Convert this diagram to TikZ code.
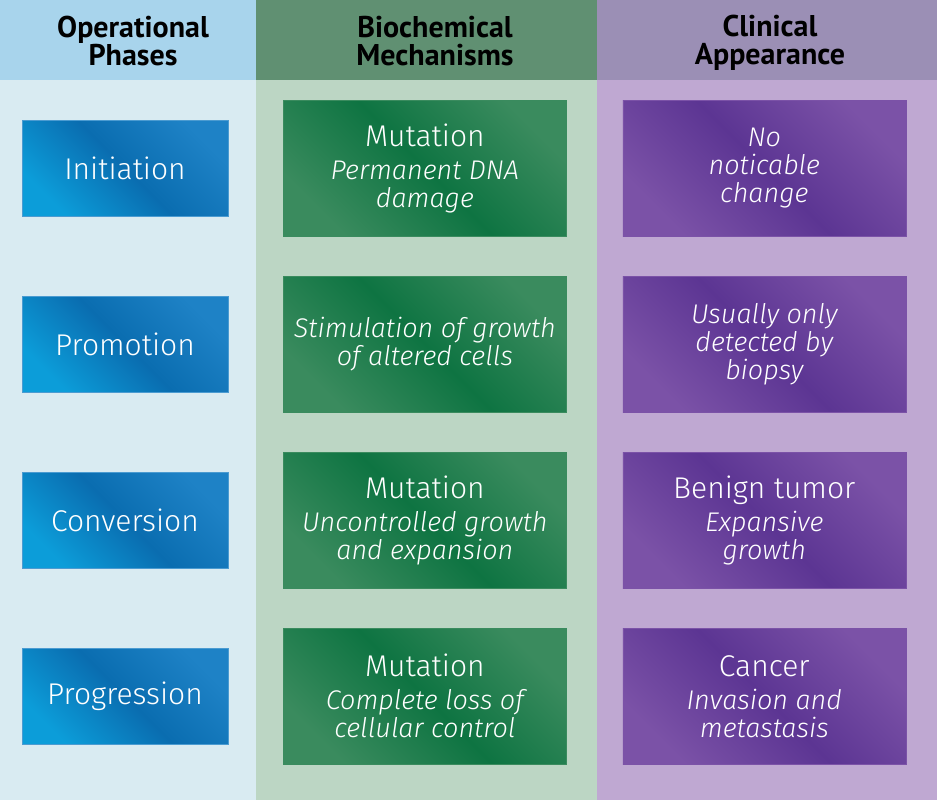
\documentclass[tikz,border=0pt]{standalone}
\usepackage{fontspec}
\usepackage{tikz}
\usetikzlibrary{positioning}
\setmainfont{Fira Sans Light}
\newfontfamily\headfont{PT Sans}
\definecolor{phasehead}{RGB}{168,212,236}
\definecolor{phasebg}{RGB}{217,235,242}
\definecolor{mechhead}{RGB}{96,144,114}
\definecolor{mechbg}{RGB}{188,214,196}
\definecolor{clinhead}{RGB}{155,143,181}
\definecolor{clinbg}{RGB}{191,168,210}
\definecolor{bluelight}{RGB}{12,157,217}
\definecolor{bluedark}{RGB}{10,109,176}
\definecolor{bluetop}{RGB}{30,130,198}
\definecolor{greenlight}{RGB}{58,139,94}
\definecolor{greendark}{RGB}{14,116,66}
\definecolor{purplelight}{RGB}{123,82,167}
\definecolor{purpledark}{RGB}{92,53,147}
\newcommand{\boxtitle}[1]{{\fontsize{30}{34}\selectfont #1}\\[5pt]}

\begin{document}
\begin{tikzpicture}[
			x=1pt, y=-1pt,
			node distance=55pt,
			head/.style={font=\headfont\bfseries\fontsize{30}{28}\selectfont, align=center, text=black},
			phase/.style={minimum width=206pt, minimum height=96pt, draw=bluetop!80, left color=bluetop, right color=bluelight, middle color=bluedark, shading angle=-45, text=white, font=\fontsize{30}{32}\selectfont},
			mech/.style={minimum width=283pt, minimum height=136pt, draw=greenlight, left color=greenlight, right color=greenlight, middle color=greendark, shading angle=-45, text=white, align=center, font=\fontsize{27}{28}\selectfont},
			clin/.style={minimum width=283pt, minimum height=136pt, draw=purplelight, left color=purplelight, right color=purplelight, middle color=purpledark, shading angle=-45, text=white, align=center, font=\fontsize{27}{28}\selectfont}
		]

		% column backgrounds
		\fill[phasebg] (0,0) rectangle (256,800);
		\fill[mechbg] (256,0) rectangle (597,800);
		\fill[clinbg] (597,0) rectangle (937,800);
		\fill[phasehead] (0,0) rectangle (256,80);
		\fill[mechhead] (256,0) rectangle (597,80);
		\fill[clinhead] (597,0) rectangle (937,80);

		\node[head] (hphase) at (133,41) {Operational\\Phases};
		\node[head] (hmech) at (435,41) {Biochemical\\Mechanisms};
		\node[head] (hclin) at (770,43) {Clinical\\Appearance};

		% phases
		\node[phase] (initiation) at (125,168) {Initiation};
		\node[phase, below=79.7pt of initiation] (promotion) {Promotion};
		\node[phase, below=79.7pt of promotion] (conversion) {Conversion};
		\node[phase, below=79.7pt of conversion] (progression) {Progression};

		% mechanisms
		\node[mech, right=of initiation] (mutation1) {\boxtitle{Mutation}\itshape Permanent DNA\\\itshape damage};
		\node[mech, right=of promotion] (stimulation) {\itshape Stimulation of growth\\\itshape of altered cells};
		\node[mech, right=of conversion] (mutation2) {\boxtitle{Mutation}\itshape Uncontrolled growth\\\itshape and expansion};
		\node[mech, right=of progression] (mutation3) {\boxtitle{Mutation}\itshape Complete loss of\\\itshape cellular control};

		% appearance
		\node[clin, right=56pt of mutation1] (nochange) {\itshape No\\\itshape noticable\\\itshape change};
		\node[clin, right=56pt of stimulation] (biopsy) {\itshape Usually only\\\itshape detected by\\\itshape biopsy};
		\node[clin, right=56pt of mutation2] (benign) {\boxtitle{Benign tumor}\itshape Expansive\\\itshape growth};
		\node[clin, right=56pt of mutation3] (cancer) {\boxtitle{Cancer}\itshape Invasion and\\\itshape metastasis};

	\end{tikzpicture}
\end{document}
